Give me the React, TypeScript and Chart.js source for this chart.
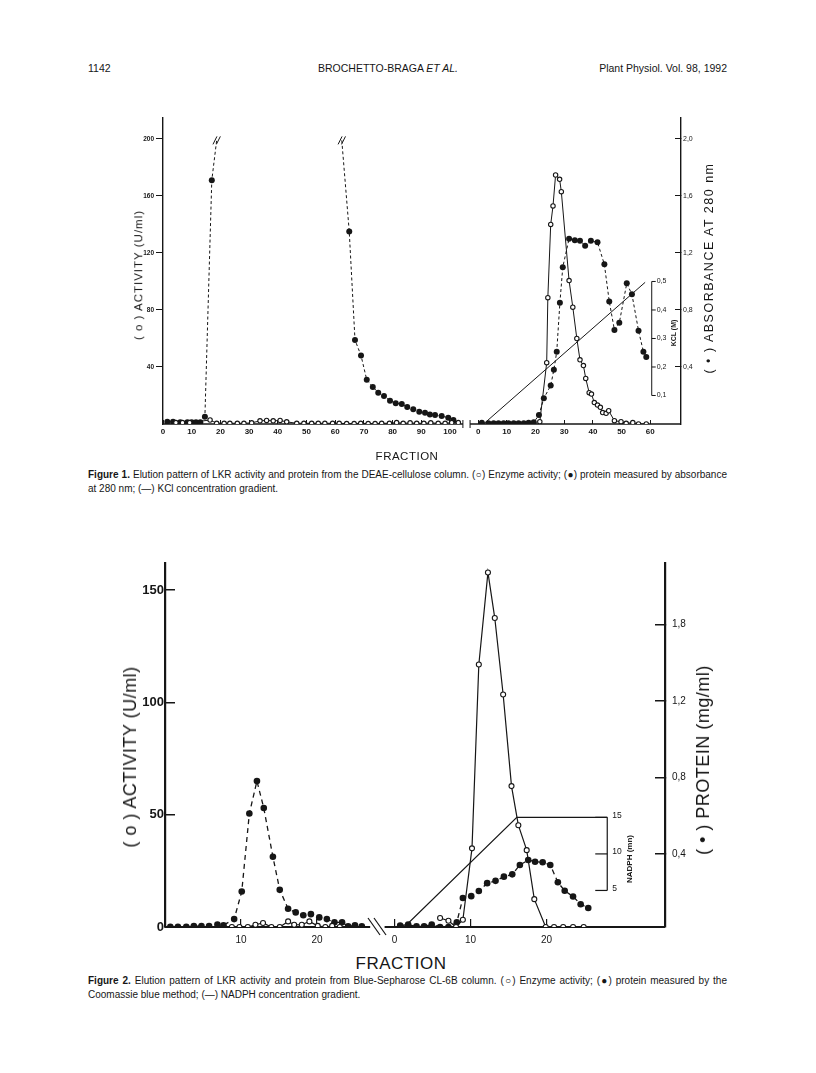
import React, { useEffect, useRef } from "react";
import { Chart, registerables } from "chart.js";

Chart.register(...registerables);

const INK = "#161616";
const SANS = "'Liberation Sans', Arial, Helvetica, sans-serif";
const NARROW = "'Liberation Sans Narrow', 'Liberation Sans', Arial, sans-serif";

// ---------------- Figure 1 (DEAE-cellulose) ----------------
const F1_OFF = 109.8; // x-offset of the second fraction series
const f1XTicksLeft = [0, 10, 20, 30, 40, 50, 60, 70, 80, 90, 100];
const f1XTicksRight = [0, 10, 20, 30, 40, 50, 60];
const f1YTicks = [40, 80, 120, 160, 200];
const f1Y2Ticks = [0.4, 0.8, 1.2, 1.6, 2.0];
const f1Y2Labels = ["0,4", "0,8", "1,2", "1,6", "2,0"];
const f1KclTicks = [0.1, 0.2, 0.3, 0.4, 0.5];
const f1KclLabels = ["0,1", "0,2", "0,3", "0,4", "0,5"];
const f1KclAxisFraction = 60.5;

// first series: protein (absorbance) peak 1 (last point = break "//")
const f1ProtAFrac = [1.5, 3.5, 6, 8.5, 10, 11.5, 13, 14.6, 17.0, 18.7];
const f1ProtAAbs = [0.015, 0.015, 0.012, 0.012, 0.012, 0.012, 0.012, 0.05, 1.71, 1.99];
// first series: protein peak 2 (first point = break "//")
const f1ProtBFrac = [62.3, 64.9, 66.9, 69.0, 71.0, 73.1, 75.0, 77.0, 79.1, 81.1, 83.2, 85.1, 87.2, 89.3, 91.3, 93.0, 94.8, 97.1, 99.4, 101.2];
const f1ProtBAbs = [1.99, 1.35, 0.59, 0.48, 0.31, 0.26, 0.22, 0.196, 0.164, 0.145, 0.14, 0.12, 0.103, 0.086, 0.079, 0.067, 0.063, 0.056, 0.044, 0.028];
// first series: enzyme activity
const f1ActLeftFrac = [4.5, 6.8, 9.3, 16.4, 18.7, 21.3, 23.3, 25.9, 28.2, 30.9, 33.8, 36.1, 38.4, 40.8, 43.1, 46.6, 49.1, 51.8, 54.1, 56.4, 59.1, 61.4, 64.0, 66.6, 68.9, 71.5, 73.9, 76.2, 78.9, 81.4, 83.7, 86.1, 88.4, 90.9, 93.3, 95.9, 98.3, 100.6, 102.9];
const f1ActLeftVal = [1, 1, 1, 2.8, 0.5, 0.5, 0.5, 0.5, 0.5, 0.8, 2.2, 2.5, 2.2, 2.5, 1.5, 0.5, 0.5, 0.5, 0.5, 0.5, 0.5, 0.5, 0.3, 0.3, 0.5, 0.3, 0.3, 0.5, 0.5, 1, 0.5, 0.8, 0.5, 0.5, 0.8, 0.5, 0.5, 1, 1];
// second series (after the break)
const f1ActRightFrac = [21.5, 23.9, 24.3, 25.3, 26.1, 27.0, 28.4, 29.0, 31.7, 33.0, 34.4, 35.5, 36.7, 37.5, 38.7, 39.5, 40.5, 41.6, 42.6, 43.4, 44.6, 45.5, 47.5, 49.8, 51.6, 53.9, 55.9, 58.6];
const f1ActRightVal = [1.6, 43, 88.6, 140, 153, 174.7, 171.7, 163, 100.6, 82, 60, 45, 41, 32, 22, 21, 15, 13.3, 11.7, 8, 7.5, 9.3, 2.3, 1.6, 0.5, 1, 0, 0];
const f1ProtRightFrac = [1.3, 3.6, 5.4, 7.1, 8.9, 10.6, 12.4, 14.1, 15.9, 17.6, 19.4, 21.2, 22.9, 25.3, 26.4, 27.4, 28.5, 29.5, 31.7, 33.7, 35.5, 37.3, 39.3, 41.6, 44.0, 45.7, 47.5, 49.2, 51.8, 53.6, 55.9, 57.6, 58.6];
const f1ProtRightAbs = [0.008, 0.006, 0.006, 0.006, 0.006, 0.006, 0.006, 0.006, 0.006, 0.008, 0.012, 0.063, 0.18, 0.27, 0.38, 0.507, 0.85, 1.10, 1.30, 1.29, 1.285, 1.25, 1.285, 1.275, 1.12, 0.86, 0.66, 0.71, 0.987, 0.91, 0.655, 0.507, 0.47];
const f1KclFrac = [1.9, 58.2];
const f1KclM = [0, 0.497];
// axis break decorations (data units)
const f1SlashFrac = [18.7, 62.3];
const f1SlashVal = [199, 199];
const f1BaseSegments = [[0, 104.5], [107, 180.5]];
const f1BaseBreakTicks = [104.5, 107];

// ---------------- Figure 2 (Blue-Sepharose) ----------------
const F2_OFF = 30.2;
const f2XTicksLeft = [10, 20];
const f2XTicksRight = [0, 10, 20];
const f2YTicks = [0, 50, 100, 150];
const f2Y2Ticks = [0.4, 0.8, 1.2, 1.6];
const f2Y2Labels = ["0,4", "0,8", "1,2", "1,8"];
const f2NadphTicks = [5, 10, 15];
const f2NadphLabels = ["5", "10", "15"];
const f2NadphAxisFraction = 28.0;

const f2ProtLeftFrac = [0.7, 1.7, 2.8, 3.8, 4.8, 5.8, 6.9, 7.7, 9.1, 10.1, 11.1, 12.1, 13.0, 14.2, 15.1, 16.2, 17.2, 18.2, 19.2, 20.3, 21.3, 22.3, 23.3, 24.1, 25.0, 25.9];
const f2ProtLeftVal = [0.02, 0.02, 0.02, 0.024, 0.024, 0.024, 0.031, 0.028, 0.06, 0.204, 0.612, 0.782, 0.641, 0.386, 0.213, 0.114, 0.095, 0.08, 0.086, 0.069, 0.06, 0.043, 0.043, 0.022, 0.028, 0.022];
const f2ActLeftFrac = [8.8, 9.8, 10.9, 11.9, 12.9, 14.0, 15.1, 16.2, 17.0, 18.0, 19.0, 20.1, 21.1, 22.0, 23.0];
const f2ActLeftVal = [0, 0, 0, 1, 1.8, 0, 0, 2.5, 1, 1, 2.5, 0.5, 0, 0.5, 0];
const f2ProtRightFrac = [0.75, 1.8, 2.9, 3.9, 4.9, 6.0, 7.1, 8.2, 9.0, 10.1, 11.1, 12.2, 13.3, 14.4, 15.5, 16.5, 17.6, 18.5, 19.5, 20.5, 21.5, 22.4, 23.5, 24.5, 25.5];
const f2ProtRightVal = [0.026, 0.031, 0.022, 0.022, 0.031, 0.019, 0.019, 0.043, 0.17, 0.18, 0.207, 0.248, 0.26, 0.282, 0.294, 0.343, 0.369, 0.36, 0.357, 0.343, 0.253, 0.208, 0.178, 0.138, 0.118];
const f2ActRightFrac = [6.0, 7.1, 8.1, 9.0, 10.2, 11.1, 12.3, 13.2, 14.3, 15.4, 16.3, 17.4, 18.4, 19.9, 21.0, 22.2, 23.5, 24.9];
const f2ActRightVal = [4.0, 2.8, 0, 3.2, 35, 116.8, 157.8, 137.5, 103.5, 62.7, 45.3, 34.2, 12.4, 0, 0, 0, 0, 0];
const f2NadphFrac = [1.3, 16.1, 28.0];
const f2NadphMM = [0, 15, 15];
const f2BaseSegments = [[0, 27.0], [28.9, 65.8]];
const f2BreakCenter = 27.9;

// ---------------- helpers ----------------
const xy = (xs: number[], ys: number[], off = 0) => xs.map((x, i) => ({ x: x + off, y: ys[i] }));

function filledSet(data: any[], yAxisID: string, radius: any, dash: number[], width: number) {
  return {
    data, yAxisID, borderColor: INK, borderWidth: width, borderDash: dash,
    pointRadius: radius, pointBackgroundColor: INK, pointBorderColor: INK, pointBorderWidth: 0,
    tension: 0, fill: false,
  };
}
function openSet(data: any[], yAxisID: string, radius: number, width: number) {
  return {
    data, yAxisID, borderColor: INK, borderWidth: width,
    pointRadius: radius, pointBackgroundColor: "#ffffff", pointBorderColor: INK, pointBorderWidth: 1.1,
    tension: 0, fill: false,
  };
}
function line(ctx: any, x1: number, y1: number, x2: number, y2: number) {
  ctx.beginPath(); ctx.moveTo(x1, y1); ctx.lineTo(x2, y2); ctx.stroke();
}

// ---------------- Figure 1 config ----------------
function buildFig1(): any {
  const xTickVals = [...f1XTicksLeft, ...f1XTicksRight.map((v) => v + F1_OFF)];
  const xTickLabels = [...f1XTicksLeft, ...f1XTicksRight].map(String);
  const lastA = f1ProtAFrac.length - 1;
  const deco = {
    id: "fig1Deco",
    beforeDatasetsDraw(chart: any) {
      const { ctx } = chart; const x = chart.scales.x, y = chart.scales.y, k = chart.scales.yk;
      ctx.save(); ctx.strokeStyle = INK; ctx.fillStyle = INK;
      const yb = y.getPixelForValue(0);
      ctx.lineWidth = 1.3;
      f1BaseSegments.forEach(([a, b]) => line(ctx, x.getPixelForValue(a), yb, x.getPixelForValue(b), yb));
      ctx.lineWidth = 1;
      f1BaseBreakTicks.forEach((v) => { const px = x.getPixelForValue(v); line(ctx, px, yb - 4, px, yb + 4); });
      // KCl inner axis
      const bx = x.getPixelForValue(f1KclAxisFraction + F1_OFF);
      line(ctx, bx, k.getPixelForValue(0.5), bx, k.getPixelForValue(0.1));
      ctx.font = `7px ${SANS}`; ctx.textBaseline = "middle"; ctx.textAlign = "left";
      f1KclTicks.forEach((t, i) => {
        const py = k.getPixelForValue(t);
        line(ctx, bx, py, bx + 4, py);
        ctx.fillText(f1KclLabels[i], bx + 5, py);
      });
      ctx.restore();
    },
    afterDatasetsDraw(chart: any) {
      const { ctx } = chart; const x = chart.scales.x, y = chart.scales.y;
      ctx.save(); ctx.strokeStyle = INK; ctx.lineWidth = 1;
      f1SlashFrac.forEach((fx, i) => {
        const px = x.getPixelForValue(fx), py = y.getPixelForValue(f1SlashVal[i]);
        [-1.7, 1.7].forEach((d) => line(ctx, px + d - 2, py + 4, px + d + 2, py - 4));
      });
      ctx.restore();
    },
  };
  return {
    type: "line",
    data: {
      datasets: [
        openSet(xy(f1ActLeftFrac, f1ActLeftVal), "y", 2.2, 1),
        openSet(xy(f1ActRightFrac, f1ActRightVal, F1_OFF), "y", 2.2, 1),
        filledSet(xy(f1ProtAFrac, f1ProtAAbs), "y2", f1ProtAFrac.map((_, i) => (i === lastA ? 0 : 3)), [3, 2.5], 1),
        filledSet(xy(f1ProtBFrac, f1ProtBAbs), "y2", f1ProtBFrac.map((_, i) => (i === 0 ? 0 : 3)), [3, 2.5], 1),
        filledSet(xy(f1ProtRightFrac, f1ProtRightAbs, F1_OFF), "y2", 3, [3, 2.5], 1),
        { data: xy(f1KclFrac, f1KclM, F1_OFF), yAxisID: "yk", borderColor: INK, borderWidth: 1, pointRadius: 0, tension: 0, fill: false },
      ],
    },
    options: {
      responsive: false, animation: false, events: [],
      layout: { padding: { top: 18, left: 0, right: 0, bottom: 0 } },
      plugins: { legend: { display: false }, tooltip: { enabled: false } },
      scales: {
        x: {
          type: "linear", min: 0, max: 180.5,
          afterBuildTicks: (s: any) => { s.ticks = xTickVals.map((v) => ({ value: v })); },
          afterFit: (s: any) => { s.height = 36; },
          ticks: { autoSkip: false, maxRotation: 0, padding: 7, color: INK, font: { family: SANS, size: 8, weight: "bold" }, callback: (_v: any, i: number) => xTickLabels[i] },
          grid: { drawOnChartArea: false, tickLength: -4, color: INK, lineWidth: 1 },
          border: { display: false },
        },
        y: {
          position: "left", min: 0, max: 214.7,
          afterBuildTicks: (s: any) => { s.ticks = f1YTicks.map((v) => ({ value: v })); },
          afterFit: (s: any) => { s.width = 63; },
          ticks: { color: INK, padding: 2, font: { family: SANS, size: 6.5, weight: "bold" }, callback: (v: any) => String(v) },
          grid: { drawOnChartArea: false, tickLength: 7, color: INK, lineWidth: 1 },
          border: { display: true, color: INK, width: 1.4 },
        },
        y2: {
          position: "right", min: 0, max: 2.147,
          afterBuildTicks: (s: any) => { s.ticks = f1Y2Ticks.map((v) => ({ value: v })); },
          afterFit: (s: any) => { s.width = 39; },
          ticks: { color: INK, padding: 8, font: { family: SANS, size: 7 }, callback: (_v: any, i: number) => f1Y2Labels[i] },
          grid: { drawOnChartArea: false, tickLength: -6, color: INK, lineWidth: 1 },
          border: { display: true, color: INK, width: 1.4 },
        },
        yk: { display: false, min: 0, max: 1.0735 },
      },
    },
    plugins: [deco],
  };
}

// ---------------- Figure 2 config ----------------
function buildFig2(): any {
  const xTickVals = [...f2XTicksLeft, ...f2XTicksRight.map((v) => v + F2_OFF)];
  const xTickLabels = [...f2XTicksLeft, ...f2XTicksRight].map(String);
  const deco = {
    id: "fig2Deco",
    beforeDatasetsDraw(chart: any) {
      const { ctx } = chart; const x = chart.scales.x, y = chart.scales.y, n = chart.scales.yn;
      ctx.save(); ctx.strokeStyle = INK; ctx.fillStyle = INK;
      const yb = y.getPixelForValue(0);
      ctx.lineWidth = 2;
      f2BaseSegments.forEach(([a, b]) => line(ctx, x.getPixelForValue(a), yb, x.getPixelForValue(b), yb));
      ctx.lineWidth = 1.2;
      const cx = x.getPixelForValue(f2BreakCenter);
      [-3, 3].forEach((d) => line(ctx, cx + d - 6, yb - 9, cx + d + 6, yb + 8));
      // NADPH inner axis
      const bx = x.getPixelForValue(f2NadphAxisFraction + F2_OFF);
      ctx.lineWidth = 1.2;
      line(ctx, bx, n.getPixelForValue(15), bx, n.getPixelForValue(5));
      ctx.font = `8.5px ${SANS}`; ctx.textBaseline = "middle"; ctx.textAlign = "left";
      f2NadphTicks.forEach((t, i) => {
        const py = n.getPixelForValue(t);
        line(ctx, bx - 12, py, bx, py);
        ctx.fillText(f2NadphLabels[i], bx + 5, py - 2);
      });
      ctx.restore();
    },
  };
  return {
    type: "line",
    data: {
      datasets: [
        openSet(xy(f2ActLeftFrac, f2ActLeftVal), "y", 2.5, 1.2),
        openSet(xy(f2ActRightFrac, f2ActRightVal, F2_OFF), "y", 2.5, 1.2),
        filledSet(xy(f2ProtLeftFrac, f2ProtLeftVal), "y2", 3.3, [5, 4], 1.3),
        filledSet(xy(f2ProtRightFrac, f2ProtRightVal, F2_OFF), "y2", 3.3, [5, 4], 1.3),
        { data: xy(f2NadphFrac, f2NadphMM, F2_OFF), yAxisID: "yn", borderColor: INK, borderWidth: 1.2, pointRadius: 0, tension: 0, fill: false },
      ],
    },
    options: {
      responsive: false, animation: false, events: [],
      layout: { padding: { top: 23, left: 0, right: 0, bottom: 0 } },
      plugins: { legend: { display: false }, tooltip: { enabled: false } },
      scales: {
        x: {
          type: "linear", min: 0, max: 65.8,
          afterBuildTicks: (s: any) => { s.ticks = xTickVals.map((v) => ({ value: v })); },
          afterFit: (s: any) => { s.height = 21; },
          ticks: { autoSkip: false, maxRotation: 0, padding: 15, color: INK, font: { family: SANS, size: 10 }, callback: (_v: any, i: number) => xTickLabels[i] },
          grid: { drawOnChartArea: false, tickLength: -8, color: INK, lineWidth: 1.2 },
          border: { display: false },
        },
        y: {
          position: "left", min: 0, max: 162,
          afterBuildTicks: (s: any) => { s.ticks = f2YTicks.map((v) => ({ value: v })); },
          afterFit: (s: any) => { s.width = 65; },
          ticks: { color: INK, padding: 11, font: { family: NARROW, size: 13, weight: "bold" }, callback: (v: any) => String(v) },
          grid: { drawOnChartArea: false, tickLength: -10, color: INK, lineWidth: 1.5 },
          border: { display: true, color: INK, width: 2.2 },
        },
        y2: {
          position: "right", min: 0.0187, max: 1.9225,
          afterBuildTicks: (s: any) => { s.ticks = f2Y2Ticks.map((v) => ({ value: v })); },
          afterFit: (s: any) => { s.width = 55; },
          ticks: { color: INK, padding: 17, font: { family: SANS, size: 10 }, callback: (_v: any, i: number) => f2Y2Labels[i] },
          grid: { drawOnChartArea: false, tickLength: -10, color: INK, lineWidth: 1.5 },
          border: { display: true, color: INK, width: 2.2 },
        },
        yn: { display: false, min: 0, max: 49.8 },
      },
    },
    plugins: [deco],
  };
}

// ---------------- text helpers ----------------
function VText(props: { x: number; y: number; size: number; weight?: any; spacing?: number; family?: string; children: any }) {
  return (
    <div style={{ position: "absolute", left: props.x, top: props.y, transform: "translate(-50%,-50%) rotate(-90deg)", whiteSpace: "nowrap", fontSize: props.size, fontWeight: props.weight ?? "normal", letterSpacing: props.spacing ?? 0, lineHeight: 1, fontFamily: props.family ?? SANS }}>
      {props.children}
    </div>
  );
}
function HText(props: { x: number; y: number; size: number; weight?: any; spacing?: number; align?: string; children: any }) {
  const tx = props.align === "center" ? "translate(-50%,-50%)" : props.align === "right" ? "translate(-100%,-50%)" : "translate(0,-50%)";
  return (
    <div style={{ position: "absolute", left: props.x, top: props.y, transform: tx, whiteSpace: "nowrap", fontSize: props.size, fontWeight: props.weight ?? "normal", letterSpacing: props.spacing ?? 0, lineHeight: 1 }}>
      {props.children}
    </div>
  );
}
const captionBox: any = { position: "absolute", left: 88, width: 639, fontSize: 10, lineHeight: "14px", whiteSpace: "nowrap" };
const justifiedLine: any = { textAlign: "justify", textAlignLast: "justify", whiteSpace: "normal" };

export default function App() {
  const c1 = useRef<HTMLCanvasElement>(null);
  const c2 = useRef<HTMLCanvasElement>(null);
  useEffect(() => {
    const ch1 = new Chart(c1.current as HTMLCanvasElement, buildFig1());
    const ch2 = new Chart(c2.current as HTMLCanvasElement, buildFig2());
    return () => { ch1.destroy(); ch2.destroy(); };
  }, []);
  return (
    <div style={{ position: "absolute", left: 0, top: 0, width: 816, height: 1073, background: "#fff", color: INK, fontFamily: SANS, overflow: "hidden" }}>
      {/* running head */}
      <HText x={88} y={68} size={10.5}>1142</HText>
      <HText x={388} y={68} size={10.5} align="center">BROCHETTO-BRAGA <i>ET AL.</i></HText>
      <HText x={727} y={68} size={10.5} align="right">Plant Physiol. Vol. 98, 1992</HText>

      {/* figure 1 */}
      <canvas ref={c1} width={620} height={360} style={{ position: "absolute", left: 100, top: 100 }} />
      <VText x={139} y={275} size={11.5} spacing={1}>( o ) ACTIVITY (U/ml)</VText>
      <VText x={709} y={268} size={12.5} spacing={1.5}>( • ) ABSORBANCE AT 280 nm</VText>
      <VText x={673} y={333} size={7} weight="bold">KCL (M)</VText>
      <HText x={407} y={457} size={11.5} align="center" spacing={0.5}>FRACTION</HText>
      <div style={{ ...captionBox, top: 468 }}>
        <div style={justifiedLine}><b>Figure 1.</b> Elution pattern of LKR activity and protein from the DEAE-cellulose column. (○) Enzyme activity; (●) protein measured by absorbance</div>
        <div>at 280 nm; (—) KCl concentration gradient.</div>
      </div>

      {/* figure 2 */}
      <canvas ref={c2} width={620} height={410} style={{ position: "absolute", left: 100, top: 540 }} />
      <VText x={130} y={757} size={18} spacing={0.5}>( o ) ACTIVITY (U/ml)</VText>
      <VText x={703} y={760} size={18} spacing={0.5}>( • ) PROTEIN (mg/ml)</VText>
      <VText x={630} y={859} size={8} weight="bold">NADPH (mn)</VText>
      <HText x={401} y={963} size={17} align="center" spacing={0.5}>FRACTION</HText>
      <div style={{ ...captionBox, top: 974 }}>
        <div style={justifiedLine}><b>Figure 2.</b> Elution pattern of LKR activity and protein from Blue-Sepharose CL-6B column. (○) Enzyme activity; (●) protein measured by the</div>
        <div>Coomassie blue method; (—) NADPH concentration gradient.</div>
      </div>
    </div>
  );
}
